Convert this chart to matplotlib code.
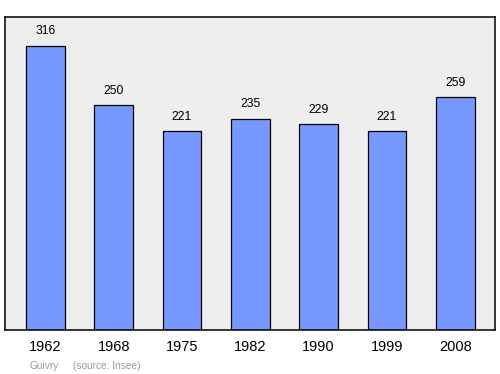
import matplotlib.pyplot as plt

plt.rcParams['font.family'] = ['Liberation Sans', 'DejaVu Sans']

years = ['1962', '1968', '1975', '1982', '1990', '1999', '2008']
population = [316, 250, 221, 235, 229, 221, 259]

fig = plt.figure(figsize=(5, 3.74), dpi=100)
ax = fig.add_axes([0.01, 0.1176, 0.98, 0.837])
ax.set_facecolor('#eeeeee')

x = range(len(years))
bars = ax.bar(x, population, width=0.57, color='#7799ff', edgecolor='black', linewidth=0.9)

for xi, v in zip(x, population):
    ax.annotate(str(v), (xi, v), xytext=(0, 6), textcoords='offset points',
                ha='center', va='bottom', fontsize=8.8)

ax.set_xlim(-0.59, 6.58)
ax.set_ylim(0, 348)
ax.set_xticks(list(x))
ax.set_xticklabels(years, fontsize=10.5)
ax.tick_params(axis='x', length=0, pad=7)
ax.set_yticks([])
for s in ax.spines.values():
    s.set_linewidth(1.1)

fig.text(0.06, 0.014, 'Guivry', fontsize=7.3, color='#999999', ha='left')
fig.text(0.146, 0.014, '(source: Insee)', fontsize=7.3, color='#999999', ha='left')

fig.savefig('out.png', dpi=100)
